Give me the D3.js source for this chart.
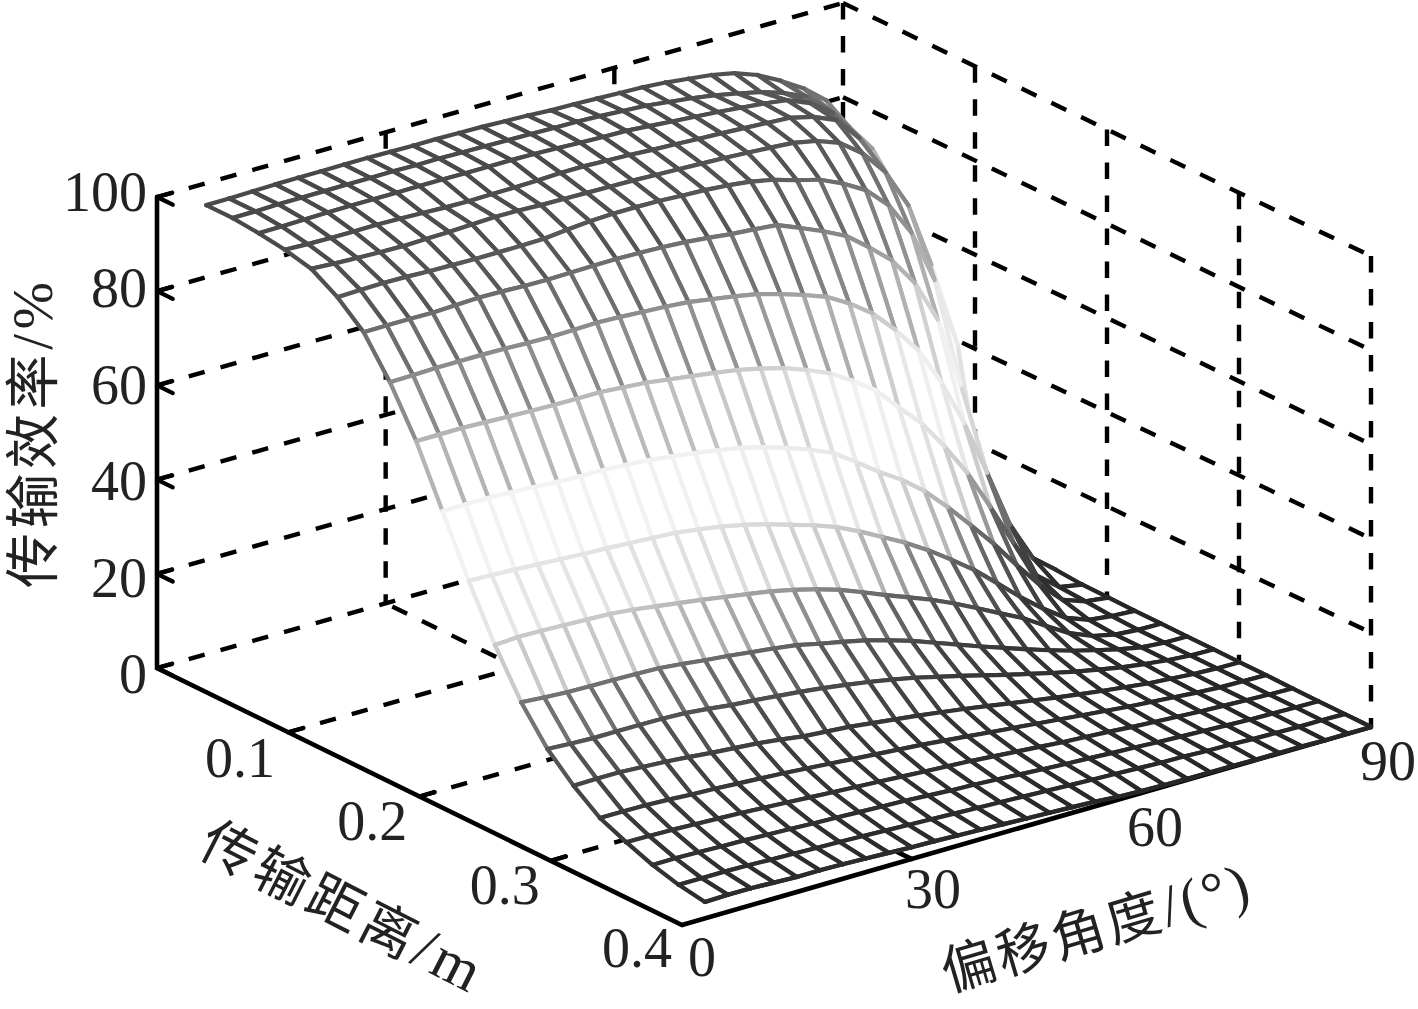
<!DOCTYPE html>
<html><head><meta charset="utf-8">
<style>html,body{margin:0;padding:0;background:#fff}svg{display:block}</style>
<script src="https://cdn.jsdelivr.net/npm/d3@7"></script>
</head><body><svg id="c" width="1418" height="1009"></svg>
<script>
const angles=[3,6,9,12,15,18,21,24,27,30,33,36,39,42,45,48,51,54,57,60,63,66,69,72,75,78,81,84,87,90];
const distances=[0.02,0.04,0.06,0.08,0.10,0.12,0.14,0.16,0.18,0.20,0.22,0.24,0.26,0.28,0.30,0.32,0.34,0.36,0.38,0.40];
const zTicks=[0,20,40,60,80,100];
const angleTicks=[0,30,60,90];
const distTicks=[0.1,0.2,0.3,0.4];
const eff02=[99.6,99.6,99.7,99.8,99.8,99.8,99.8,99.8,99.7,99.6,99.6,99.5,99.4,99.2,99.0,98.7,98.6,98.4,98.2,98.0,97.6,97.0,96.4,95.4,93.6,91.0,88.0,84.0,77.0,71.0];
const eff04=[99.6,99.6,99.7,99.7,99.7,99.7,99.7,99.7,99.6,99.6,99.5,99.4,99.3,99.2,99.1,99.0,98.8,98.5,98.2,97.6,97.0,96.2,95.2,94.1,92.5,90.3,86.0,79.0,70.5,64.0];
const eff06=[99.1,99.1,99.2,99.3,99.3,99.3,99.3,99.3,99.3,99.2,99.2,99.2,99.1,98.9,98.7,98.5,98.4,98.0,97.6,97.2,96.8,96.3,95.8,95.1,93.1,89.6,83.5,75.7,64.4,52.8];
const eff08=[98.3,98.1,98.0,98.0,98.0,97.9,97.7,97.5,97.4,97.5,97.5,97.6,97.8,97.8,97.6,97.4,97.1,96.9,96.6,96.4,96.1,95.8,95.5,94.3,92.2,87.0,78.8,65.7,50.5,30.0];
const eff10=[97.0,96.7,96.5,96.3,96.2,96.3,96.4,96.6,96.8,96.7,96.5,96.4,96.3,96.2,96.1,95.9,95.7,95.5,95.3,95.0,94.7,94.3,93.3,91.5,87.9,82.5,74.0,60.0,41.6,10.0];
const eff12=[93.7,93.8,93.9,93.8,93.6,93.5,93.4,93.4,93.4,93.5,94.0,94.4,94.6,94.6,94.5,94.2,94.0,93.6,93.0,92.0,90.5,89.2,87.0,84.2,79.6,72.3,60.9,45.7,12.0,3.0];
const eff14=[89.0,89.0,89.0,88.9,89.1,89.3,89.2,89.0,88.9,89.0,89.1,89.1,89.0,88.8,88.5,88.0,87.4,87.0,86.5,84.5,82.4,80.0,76.2,72.0,65.8,56.6,41.3,15.0,5.0,0.5];
const eff16=[81.1,81.2,81.3,81.3,81.3,81.2,81.0,80.9,81.0,81.1,80.9,80.6,80.3,79.9,79.1,78.3,77.4,76.0,74.4,72.6,69.8,66.3,61.4,55.7,47.5,37.4,25.4,13.0,4.5,0.6];
const eff18=[71.3,71.3,71.3,71.1,70.9,70.7,70.6,70.5,70.5,70.1,69.7,69.0,68.3,67.6,66.8,65.7,64.4,62.6,60.5,57.5,54.1,49.1,44.3,38.0,30.9,22.3,13.3,5.0,1.1,0.2];
const eff20=[59.2,59.2,59.2,59.0,58.7,58.4,58.2,58.1,57.8,57.4,56.8,56.1,55.3,54.4,53.1,51.6,49.8,47.7,44.4,40.9,37.8,34.0,29.2,24.0,18.6,12.7,7.1,2.5,0.8,0.2];
const eff22=[47.1,46.9,46.7,46.4,46.1,45.8,45.6,45.3,45.0,44.7,44.0,43.2,42.2,40.9,39.4,37.9,36.1,33.8,31.2,28.6,25.6,22.2,18.6,14.4,10.1,6.2,2.8,1.0,0.4,0.1];
const eff24=[36.2,36.5,36.4,36.2,36.0,35.8,35.3,34.6,33.9,33.2,32.4,31.6,30.8,29.7,28.4,26.9,25.0,23.0,21.1,19.2,17.0,14.6,12.1,9.7,6.6,3.7,1.7,0.6,0.2,0.1];
const eff26=[26.8,26.4,26.1,26.0,25.9,25.8,25.6,25.1,24.5,24.0,23.4,22.8,22.1,21.0,20.0,18.9,17.5,16.0,14.2,12.4,10.6,8.9,7.2,5.6,4.1,2.8,1.6,0.6,0.2,0.1];
const eff28=[19.6,19.3,19.1,19.1,19.1,19.0,18.8,18.3,17.7,17.3,16.8,16.3,15.7,15.0,14.2,13.3,12.3,11.1,9.9,8.6,7.3,6.1,4.9,3.8,2.8,1.9,1.2,0.6,0.2,0.1];
const eff30=[14.5,14.6,14.6,14.3,14.0,13.6,13.1,12.7,12.3,11.7,11.0,10.6,10.2,9.6,9.0,8.4,7.7,7.0,6.2,5.4,4.6,3.8,3.1,2.4,1.8,1.2,0.8,0.4,0.2,0.1];
const eff32=[10.4,10.4,10.3,10.1,9.8,9.6,9.3,9.0,8.7,8.3,7.9,7.5,7.1,6.7,6.3,5.8,5.3,4.8,4.3,3.8,3.3,2.8,2.3,1.8,1.4,1.0,0.6,0.3,0.2,0.1];
const eff34=[8.0,7.9,7.8,7.6,7.4,7.2,6.9,6.6,6.3,6.0,5.7,5.4,5.1,4.8,4.5,4.2,3.8,3.4,3.0,2.6,2.3,2.0,1.6,1.3,1.0,0.7,0.5,0.3,0.1,0];
const eff36=[5.9,5.9,5.8,5.6,5.5,5.3,5.1,4.9,4.7,4.5,4.3,4.1,3.8,3.5,3.3,3.0,2.7,2.4,2.1,1.9,1.6,1.4,1.1,0.9,0.7,0.5,0.3,0.2,0.1,0];
const eff38=[4.4,4.4,4.4,4.3,4.1,4.0,3.8,3.7,3.5,3.3,3.1,2.9,2.7,2.5,2.3,2.1,1.9,1.7,1.5,1.3,1.1,0.9,0.8,0.6,0.5,0.3,0.2,0.1,0.1,0];
const eff40=[3.5,3.6,3.6,3.4,3.2,3.2,3.1,2.9,2.7,2.5,2.4,2.2,2.0,1.8,1.6,1.4,1.2,1.0,0.6,0.4,0.3,0.2,0.2,0.2,0.1,0.1,0.1,0,0,0];
const efficiency=[eff02,eff04,eff06,eff08,eff10,eff12,eff14,eff16,eff18,eff20,eff22,eff24,eff26,eff28,eff30,eff32,eff34,eff36,eff38,eff40];

const svg=d3.select("#c");
svg.append("rect").attr("width",1418).attr("height",1009).attr("fill","#fff");

const xA=d3.scaleLinear([0,90],[0,689]), yA=d3.scaleLinear([0,90],[0,-198]);
const xD=d3.scaleLinear([0,0.4],[157,682]), yD=d3.scaleLinear([0,0.4],[668,925]);
const zS=d3.scaleLinear([0,100],[0,-471]);
const pt=(a,d,z)=>[xD(d)+xA(a),yD(d)+yA(a)+zS(z)];
const bx=(a,d,z)=>{const p=pt(a,d,z),k=(a/90)*(1-d/0.4);return [p[0]-3*k,p[1]+4*k];};
const line=d3.line();

const gGrid=svg.append("g").attr("fill","none").attr("stroke","#000").attr("stroke-width",4.4).attr("stroke-dasharray","16.5 16.5");
const dash=(p,q)=>gGrid.append("path").attr("d",line([p,q]));
zTicks.forEach(z=>{dash(bx(0,0,z),bx(90,0,z));dash(bx(90,0,z),bx(90,0.4,z));});
[30,60,90].forEach(a=>dash(bx(a,0,100),bx(a,0,0)));
[0.1,0.2,0.3,0.4].forEach(d=>dash(bx(90,d,100),bx(90,d,0)));
[0.1,0.2,0.3].forEach(d=>dash(bx(0,d,0),bx(90,d,0)));
[30,60].forEach(a=>dash(bx(a,0.4,0),bx(a,0,0)));

const gAxis=svg.append("g").attr("fill","none").attr("stroke","#000").attr("stroke-width",4.6).attr("stroke-linecap","round");
gAxis.append("path").attr("d",line([bx(0,0,100),bx(0,0,0),bx(0,0.4,0),bx(90,0.4,0)]));
const tk=(p,q)=>gAxis.append("path").attr("stroke-width",4.2).attr("d",line([p,q]));
zTicks.forEach(z=>{tk(bx(0,0,z),bx(2,0,z));tk(bx(0,0,z),bx(0,0.012,z));});
distTicks.slice(0,3).forEach(d=>tk(bx(0,d,0),bx(2,d,0)));
angleTicks.slice(1,3).forEach(a=>tk(bx(a,0.4,0),bx(a,0.39,0)));

const tone=d3.scaleLinear()
  .domain([0,10,20,27,36,47,59,71,81,89,94,100])
  .range(["#262626","#383838","#555555","#757575","#c8c8c8","#e6e6e6","#f3f3f3","#b5b5b5","#8c8c8c","#6e6e6e","#555555","#484848"]);

const gSurf=svg.append("g").attr("stroke-linecap","round").attr("stroke-linejoin","round");
const nD=distances.length,nA=angles.length,sw=4.2;
const P=(i,j)=>pt(angles[j],distances[i],efficiency[i][j]);
const seg=(a,b,c)=>gSurf.append("path").attr("d",line([a,b])).attr("fill","none").attr("stroke",c).attr("stroke-width",sw);
for(let i=0;i<nD;i++){
  for(let j=nA-1;j>=0;j--){
    const c=tone(efficiency[i][j]);
    if(i<nD-1&&j<nA-1){
      gSurf.append("path").attr("d",line([P(i,j),P(i,j+1),P(i+1,j+1),P(i+1,j)])+"Z").attr("fill","#fff").attr("stroke","none");
      seg(P(i,j+1),P(i+1,j+1),tone(efficiency[i][j+1]));
      seg(P(i+1,j),P(i+1,j+1),tone(efficiency[i+1][j]));
    }
    if(j<nA-1) seg(P(i,j),P(i,j+1),c);
    if(i<nD-1) seg(P(i,j),P(i+1,j),c);
  }
}

const serif="'Liberation Serif','Times New Roman',serif", cjk="'Liberation Serif','Noto Sans CJK SC','Noto Sans CJK JP',serif";
const gText=svg.append("g").attr("fill","#222").attr("font-family",serif).attr("font-size",56);
const zLab=d3.scaleLinear([0,100],[693,211]);
zTicks.forEach(z=>gText.append("text").attr("x",147).attr("y",zLab(z)).attr("text-anchor","end").text(z));
const dLabX=d3.scaleLinear([0.1,0.4],[240,637]), dLabY=d3.scaleLinear([0.1,0.4],[777,967]);
distTicks.forEach(d=>gText.append("text").attr("x",dLabX(d)).attr("y",dLabY(d)).attr("text-anchor","middle").text(d.toFixed(1)));
const aLabX=d3.scaleLinear([0,30,60,90],[702,933,1155,1388]), aLabY=d3.scaleLinear([0,30,60,90],[976,908,846,780]);
angleTicks.forEach(a=>gText.append("text").attr("x",aLabX(a)).attr("y",aLabY(a)).attr("text-anchor","middle").text(a));

function title(x,y,rot,size,cn,latin,len,latinSize){
  const t=gText.append("text").attr("transform",`translate(${x},${y}) rotate(${rot})`).attr("font-size",size).attr("textLength",len).attr("lengthAdjust","spacing");
  t.append("tspan").attr("font-family",cjk).text(cn);
  t.append("tspan").attr("font-family",serif).attr("font-size",latinSize).text(latin);
}
title(52,588,-90,55,"传输效率","/%",306,57);
title(196,854,27,55,"传输距离","/m",306,60);
title(948,992,-16.5,54,"偏移角度","/(°)",318,59);
</script></body></html>
